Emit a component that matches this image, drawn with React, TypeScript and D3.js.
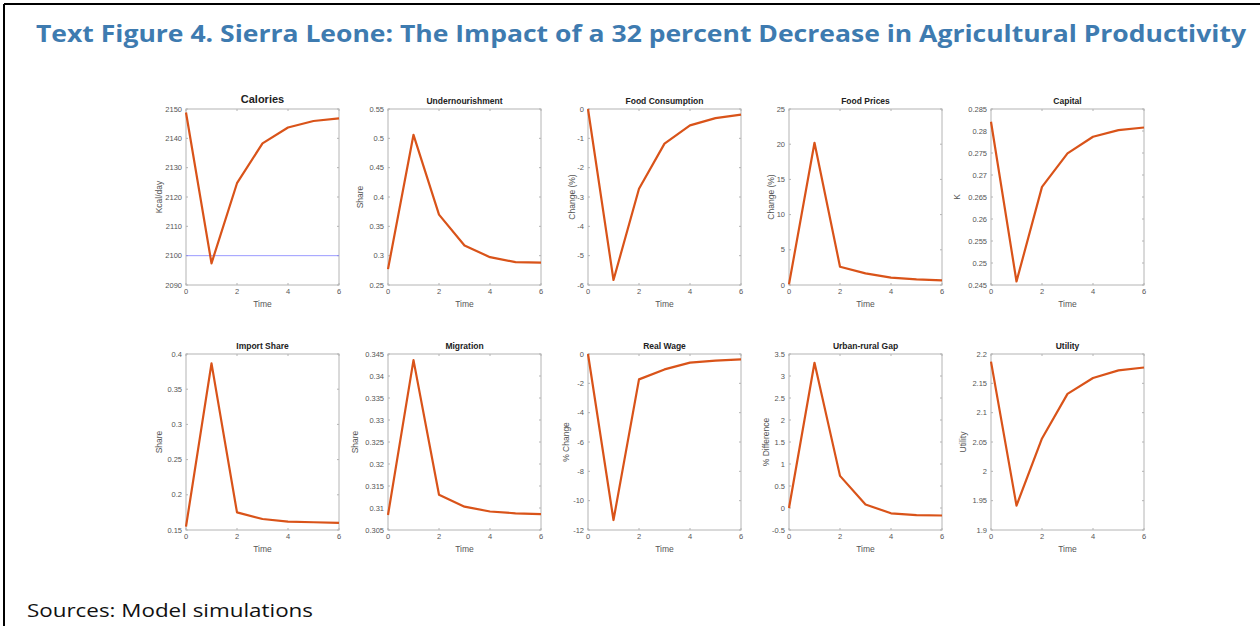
import React from "react";
import * as d3 from "d3";

const TIME = [0, 1, 2, 3, 4, 5, 6];

const TITLES = ["Calories", "Undernourishment", "Food Consumption", "Food Prices", "Capital", "Import Share", "Migration", "Real Wage", "Urban-rural Gap", "Utility"];
const YLABELS = ["Kcal/day", "Share", "Change (%)", "Change (%)", "K", "Share", "Share", "% Change", "% Difference", "Utility"];

const calories = [2148.8, 2097.4, 2124.7, 2138.3, 2143.7, 2145.9, 2146.8];
const undernourishment = [0.277, 0.506, 0.37, 0.3174, 0.2974, 0.289, 0.288];
const foodConsumption = [0, -5.83, -2.72, -1.18, -0.56, -0.31, -0.19];
const foodPrices = [0.1, 20.2, 2.6, 1.66, 1.04, 0.8, 0.66];
const capital = [0.2821, 0.2458, 0.2673, 0.2749, 0.2787, 0.2802, 0.2808];
const importShare = [0.1547, 0.3867, 0.175, 0.1656, 0.1618, 0.161, 0.16];
const migration = [0.3084, 0.3436, 0.313, 0.3103, 0.3092, 0.3088, 0.3086];
const realWage = [0, -11.32, -1.73, -1.05, -0.59, -0.45, -0.36];
const urbanRuralGap = [0.0, 3.3, 0.73, 0.08, -0.12, -0.16, -0.17];
const utility = [2.187, 1.9415, 2.056, 2.132, 2.159, 2.172, 2.177];

const SERIES = [calories, undernourishment, foodConsumption, foodPrices, capital, importShare, migration, realWage, urbanRuralGap, utility];

const Y_DOMAINS: [number, number][] = [[2090, 2150], [0.25, 0.55], [-6, 0], [0, 25], [0.245, 0.285], [0.15, 0.4], [0.305, 0.345], [-12, 0], [-0.5, 3.5], [1.9, 2.2]];
const Y_TICKS: number[][] = [
  [2090, 2100, 2110, 2120, 2130, 2140, 2150],
  [0.25, 0.3, 0.35, 0.4, 0.45, 0.5, 0.55],
  [-6, -5, -4, -3, -2, -1, 0],
  [0, 5, 10, 15, 20, 25],
  [0.245, 0.25, 0.255, 0.26, 0.265, 0.27, 0.275, 0.28, 0.285],
  [0.15, 0.2, 0.25, 0.3, 0.35, 0.4],
  [0.305, 0.31, 0.315, 0.32, 0.325, 0.33, 0.335, 0.34, 0.345],
  [-12, -10, -8, -6, -4, -2, 0],
  [-0.5, 0, 0.5, 1, 1.5, 2, 2.5, 3, 3.5],
  [1.9, 1.95, 2, 2.05, 2.1, 2.15, 2.2],
];
const X_TICKS = [0, 2, 4, 6];
const CALORIE_THRESHOLD = 2100;

const COL_X = [186, 388, 588, 789, 991];
const YLABEL_X = [159, 360, 572, 771, 957, 159, 355, 566, 766, 963];
const ROW_Y = [109, 354];
const PW = 153;
const PH = 176;
const LINE_COLOR = "#D95319";
const FONT = "Liberation Sans, Arial, sans-serif";

function fmt(v: number) {
  return String(parseFloat(v.toPrecision(6)));
}

function Panel({ i }: { i: number }) {
  const col = i % 5;
  const row = Math.floor(i / 5);
  const x0 = COL_X[col];
  const y0 = ROW_Y[row];
  const x = d3.scaleLinear().domain([0, 6]).range([0, PW]);
  const y = d3.scaleLinear().domain(Y_DOMAINS[i]).range([PH, 0]);
  const line = d3.line<number>().x((_, k) => x(TIME[k])).y((d) => y(d));
  const data = SERIES[i];
  return (
    <g transform={`translate(${x0},${y0})`}>
      <rect x={0} y={0} width={PW} height={PH} fill="white" stroke="#b4b4b4" strokeWidth={1} />
      {Y_TICKS[i].map((t) => (
        <g key={"y" + t}>
          <line x1={0} x2={2} y1={y(t)} y2={y(t)} stroke="#b4b4b4" />
          <line x1={PW - 2} x2={PW} y1={y(t)} y2={y(t)} stroke="#b4b4b4" />
          <text x={-4} y={y(t)} dy="0.35em" textAnchor="end" fontSize={7.5} fill="#555" fontFamily={FONT}>
            {fmt(t)}
          </text>
        </g>
      ))}
      {X_TICKS.map((t) => (
        <g key={"x" + t}>
          <line x1={x(t)} x2={x(t)} y1={PH} y2={PH - 2} stroke="#b4b4b4" />
          <line x1={x(t)} x2={x(t)} y1={0} y2={2} stroke="#b4b4b4" />
          <text x={x(t)} y={PH + 9} textAnchor="middle" fontSize={7.5} fill="#555" fontFamily={FONT}>
            {t}
          </text>
        </g>
      ))}
      <text x={PW / 2} y={PH + 22} textAnchor="middle" fontSize={8.5} fill="#555" fontFamily={FONT}>
        Time
      </text>
      <text
        transform={`translate(${YLABEL_X[i] - x0},${PH / 2}) rotate(-90)`}
        textAnchor="middle"
        dy="0.35em"
        fontSize={8.5}
        fill="#555"
        fontFamily={FONT}
      >
        {YLABELS[i]}
      </text>
      <text
        x={PW / 2}
        y={i === 0 ? -6 : -5}
        textAnchor="middle"
        fontSize={i === 0 ? 11 : 8.5}
        fontWeight="bold"
        fill="#222"
        fontFamily={FONT}
      >
        {TITLES[i]}
      </text>
      {i === 0 && (
        <line x1={0} x2={PW} y1={y(CALORIE_THRESHOLD)} y2={y(CALORIE_THRESHOLD)} stroke="#8080ff" strokeWidth={0.8} />
      )}
      <path d={line(data) || ""} fill="none" stroke={LINE_COLOR} strokeWidth={2.2} strokeLinejoin="round" />
    </g>
  );
}

export default function App() {
  return (
    <svg
      width={1260}
      height={626}
      style={{ position: "absolute", left: 0, top: 0, background: "white" }}
    >
      <rect x={0} y={0} width={1260} height={626} fill="white" />
      <line x1={4} x2={1260} y1={4} y2={4} stroke="#000" strokeWidth={2} />
      <line x1={4} x2={4} y1={4} y2={626} stroke="#000" strokeWidth={2} />
      <text
        x={36}
        y={42}
        fontFamily="Open Sans, sans-serif"
        fontWeight="bold"
        fontSize={23}
        fill="#3E7BB0"
        textLength={1210}
        lengthAdjust="spacingAndGlyphs"
      >
        Text Figure 4. Sierra Leone: The Impact of a 32 percent Decrease in Agricultural Productivity
      </text>
      {TITLES.map((_, i) => (
        <Panel key={i} i={i} />
      ))}
      <text
        x={27}
        y={617}
        fontFamily="Open Sans, sans-serif"
        fontSize={19}
        fill="#111"
        textLength={286}
        lengthAdjust="spacingAndGlyphs"
      >
        Sources: Model simulations
      </text>
    </svg>
  );
}
